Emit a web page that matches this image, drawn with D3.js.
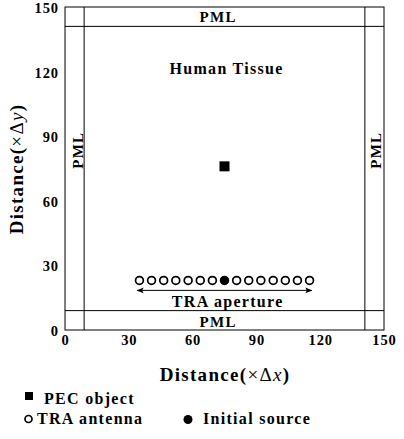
<!DOCTYPE html>
<html lang="en">
<head>
<meta charset="UTF-8">
<title>TRA layout</title>
<script src="https://d3js.org/d3.v7.min.js"></script>
<style>
  body { margin: 0; background: #fff; }
  text { font-family: "Liberation Serif", "DejaVu Serif", serif; font-weight: bold; fill: #000; letter-spacing: 1.3px; }
  .tick text { letter-spacing: 0.9px; }
</style>
</head>
<body>
<script>
    // domain and ticks
    var xTicks = [0, 30, 60, 90, 120, 150];
    var yTicks = [0, 30, 60, 90, 120, 150];
    var pmlWidth = 9;
    // TRA antenna x positions and row
    var antennaX = [35, 40.7, 46.4, 52.1, 57.9, 63.6, 69.3, 75, 80.7, 86.4, 92.1, 97.9, 103.6, 109.3, 115];
    var antennaY = 23;
    var sourceX = [75];
    var pecObject = [{x: 75, y: 76}];
    var aperture = [34, 116];
    var apertureY = 18.4;

    var width = 404, height = 439;
    var svg = d3.select('body').append('svg').attr('width', width).attr('height', height);

    var x = d3.scaleLinear().domain([0, 150]).range([65, 384]);
    var y = d3.scaleLinear().domain([0, 150]).range([330, 7]);

    // axes (labels only)
    var xAxis = svg.append('g').attr('transform', 'translate(0,330)')
        .call(d3.axisBottom(x).tickValues(xTicks).tickSize(0).tickPadding(5));
    xAxis.attr('font-family', null).attr('font-size', null);
    xAxis.select('.domain').remove();
    xAxis.selectAll('text').style('font-size', '14.5px');

    var yAxis = svg.append('g').attr('transform', 'translate(65,0)')
        .call(d3.axisLeft(y).tickValues(yTicks).tickSize(0).tickPadding(6));
    yAxis.attr('font-family', null).attr('font-size', null);
    yAxis.select('.domain').remove();
    yAxis.selectAll('text').style('font-size', '14.5px').attr('dy', '0.38em');

    // outer box and PML lines
    svg.append('rect').attr('x', x(0)).attr('y', y(150))
        .attr('width', x(150) - x(0)).attr('height', y(0) - y(150))
        .attr('fill', 'none').attr('stroke', '#000').attr('stroke-width', 1);
    var pml = svg.append('g').attr('stroke', '#000').attr('stroke-width', 1);
    pml.append('line').attr('x1', x(pmlWidth)).attr('x2', x(pmlWidth)).attr('y1', y(0)).attr('y2', y(150));
    pml.append('line').attr('x1', x(150 - pmlWidth)).attr('x2', x(150 - pmlWidth)).attr('y1', y(0)).attr('y2', y(150));
    pml.append('line').attr('x1', x(0)).attr('x2', x(150)).attr('y1', y(pmlWidth)).attr('y2', y(pmlWidth));
    pml.append('line').attr('x1', x(0)).attr('x2', x(150)).attr('y1', y(150 - pmlWidth)).attr('y2', y(150 - pmlWidth));

    // labels inside
    svg.append('text').attr('x', x(72)).attr('y', y(150) + 15).attr('text-anchor', 'middle')
        .style('font-size', '15px').text('PML');
    svg.append('text').attr('x', x(72)).attr('y', y(0) - 3).attr('text-anchor', 'middle')
        .style('font-size', '15px').text('PML');
    svg.append('text').attr('transform', 'translate(' + (x(0) + 18) + ',' + y(83.5) + ') rotate(-90)')
        .attr('text-anchor', 'middle').style('font-size', '15px').text('PML');
    svg.append('text').attr('transform', 'translate(' + (x(150) - 3) + ',' + y(83.5) + ') rotate(-90)')
        .attr('text-anchor', 'middle').style('font-size', '15px').text('PML');
    svg.append('text').attr('x', x(76)).attr('y', y(119)).attr('text-anchor', 'middle')
        .style('font-size', '16px').text('Human Tissue');

    // PEC object
    svg.selectAll('rect.pec').data(pecObject).join('rect').attr('class', 'pec')
        .attr('x', function (d) { return x(d.x) - 5 })
        .attr('y', function (d) { return y(d.y) - 5 })
        .attr('width', 10).attr('height', 10).attr('fill', '#000');

    // antennas
    svg.selectAll('circle.ant').data(antennaX).join('circle').attr('class', 'ant')
        .attr('cx', function (d) { return x(d) })
        .attr('cy', y(antennaY))
        .attr('r', 3.9)
        .attr('fill', function (d) { return sourceX.indexOf(d) >= 0 ? '#000' : '#fff' })
        .attr('stroke', '#000').attr('stroke-width', 1.7);

    // aperture arrow
    var defs = svg.append('defs');
    defs.append('marker').attr('id', 'ah').attr('viewBox', '0 0 10 10')
        .attr('refX', 9).attr('refY', 5).attr('markerWidth', 9).attr('markerHeight', 7)
        .attr('markerUnits', 'userSpaceOnUse').attr('orient', 'auto-start-reverse')
        .append('path').attr('d', 'M0,1 L10,5 L0,9 L2,5 Z').attr('fill', '#000');
    svg.append('line').attr('x1', x(aperture[0])).attr('x2', x(aperture[1]))
        .attr('y1', y(apertureY)).attr('y2', y(apertureY))
        .attr('stroke', '#000').attr('stroke-width', 1)
        .attr('marker-start', 'url(#ah)').attr('marker-end', 'url(#ah)');
    svg.append('text').attr('x', x(76.5)).attr('y', y(10.7)).attr('text-anchor', 'middle')
        .style('font-size', '16px').text('TRA aperture');

    // axis titles
    var xt = svg.append('text').attr('x', 225).attr('y', 381).attr('text-anchor', 'middle').style('font-size', '19px');
    xt.append('tspan').text('Distance(');
    xt.append('tspan').style('font-weight', 'normal').text('×Δ');
    xt.append('tspan').style('font-weight', 'normal').style('font-style', 'italic').text('x');
    xt.append('tspan').text(')');
    var yt = svg.append('text').attr('transform', 'translate(23,169) rotate(-90)').attr('text-anchor', 'middle').style('font-size', '19px');
    yt.append('tspan').text('Distance(');
    yt.append('tspan').style('font-weight', 'normal').text('×Δ');
    yt.append('tspan').style('font-weight', 'normal').style('font-style', 'italic').text('y');
    yt.append('tspan').text(')');

    // legend
    var lg = svg.append('g').style('font-size', '16px');
    lg.append('rect').attr('x', 25).attr('y', 392).attr('width', 8).attr('height', 8).attr('fill', '#000');
    lg.append('text').attr('x', 44).attr('y', 404).text('PEC object');
    lg.append('circle').attr('cx', 28.5).attr('cy', 419).attr('r', 3.5).attr('fill', '#fff').attr('stroke', '#000').attr('stroke-width', 1.7);
    lg.append('text').attr('x', 37).attr('y', 424).text('TRA antenna');
    lg.append('circle').attr('cx', 188).attr('cy', 419.5).attr('r', 4.5).attr('fill', '#000');
    lg.append('text').attr('x', 203).attr('y', 424).text('Initial source');
</script>
</body>
</html>
